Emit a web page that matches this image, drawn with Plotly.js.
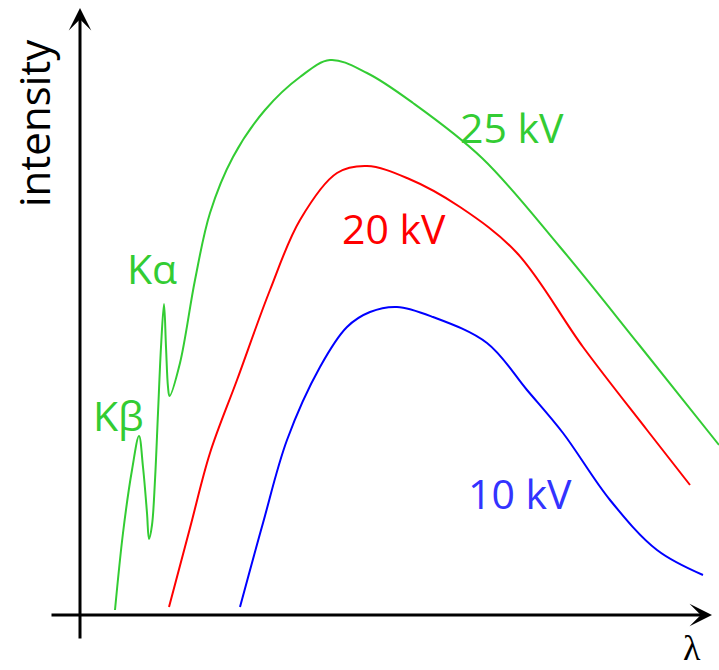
<!DOCTYPE html>
<html>
<head>
<meta charset="utf-8">
<script src="https://cdn.plot.ly/plotly-3.0.1.min.js"></script>
<style>html,body{margin:0;padding:0;background:#fff;}#chart{width:719px;height:670px;}</style>
</head>
<body>
<div id="chart"></div>
<script>
// wavelength (arbitrary units) and intensity (arbitrary units)
const lambda25 = [115,123,132,139,143,147,149,152,155,158,161,164,166,168,169.5,180,195,210,233,265,300,330,367,413,482,560,640,719];
const intensity25 = [4,81,144,178,147,101,75,89,134,201,267,310,267,227,218,251,334,401,457,504,537,554,541,511,456,367,268,169];

const lambda20 = [169,190,210,237,270,300,337,367,407,460,517,583,647,690];
const intensity20 = [7,86,161,234,324,394,441,448,436,407,361,267,184,129];

const lambda10 = [240,263,287,320,347,370,397,433,487,527,563,610,657,703];
const intensity10 = [7,91,174,247,287,302,307,297,271,224,181,114,64,39];

const seriesNames = ["25 kV", "20 kV", "10 kV"];
const lineColors = ["#33cc33", "#ff0000", "#0000ff"];
const labelColors = ["#33cc33", "#ff0000", "#3333ff"];

const traces = [
  {x: lambda25, y: intensity25, name: seriesNames[0]},
  {x: lambda20, y: intensity20, name: seriesNames[1]},
  {x: lambda10, y: intensity10, name: seriesNames[2]}
].map((t, i) => Object.assign(t, {
  type: "scatter", mode: "lines",
  line: {color: lineColors[i], width: 2, shape: "spline", smoothing: 1},
  hoverinfo: "skip"
}));

const labelFont = (c) => ({family: "Open Sans, sans-serif", size: 41, color: c});

const annotations = [
  // axes with arrow heads
  {x: 80, y: 606, ax: 80, ay: -26, xref: "x", yref: "y", axref: "x", ayref: "y",
   showarrow: true, arrowhead: 3, arrowsize: 1.25, arrowwidth: 3, arrowcolor: "#000", text: "", standoff: 0},
  {x: 712, y: -1, ax: 50, ay: -1, xref: "x", yref: "y", axref: "x", ayref: "y",
   showarrow: true, arrowhead: 3, arrowsize: 1.25, arrowwidth: 3, arrowcolor: "#000", text: "", standoff: 0},
  // axis labels
  {x: 33, y: 491, xref: "x", yref: "y", text: "intensity", textangle: -90, showarrow: false,
   font: {family: "Open Sans, sans-serif", size: 42, color: "#000"}},
  {x: 692, y: -34, xref: "x", yref: "y", text: "λ", showarrow: false,
   font: {family: "Liberation Serif, serif", size: 36, color: "#000"}},
  // series labels
  {x: 512, y: 487, xref: "x", yref: "y", text: seriesNames[0], showarrow: false, font: labelFont(labelColors[0])},
  {x: 394, y: 386, xref: "x", yref: "y", text: seriesNames[1], showarrow: false, font: labelFont(labelColors[1])},
  {x: 520, y: 121, xref: "x", yref: "y", text: seriesNames[2], showarrow: false, font: labelFont(labelColors[2])},
  {x: 152, y: 346, xref: "x", yref: "y", text: "Kα", showarrow: false, font: labelFont(labelColors[0])},
  {x: 118, y: 199, xref: "x", yref: "y", text: "Kβ", showarrow: false, font: labelFont(labelColors[0])}
];

const layout = {
  width: 719, height: 670,
  margin: {l: 0, r: 0, t: 0, b: 0, pad: 0},
  paper_bgcolor: "#fff", plot_bgcolor: "#fff",
  showlegend: false,
  xaxis: {range: [0, 719], visible: false, fixedrange: true},
  yaxis: {range: [-56, 614], visible: false, fixedrange: true},
  annotations: annotations
};

Plotly.newPlot("chart", traces, layout, {displayModeBar: false, staticPlot: true});
</script>
</body>
</html>
